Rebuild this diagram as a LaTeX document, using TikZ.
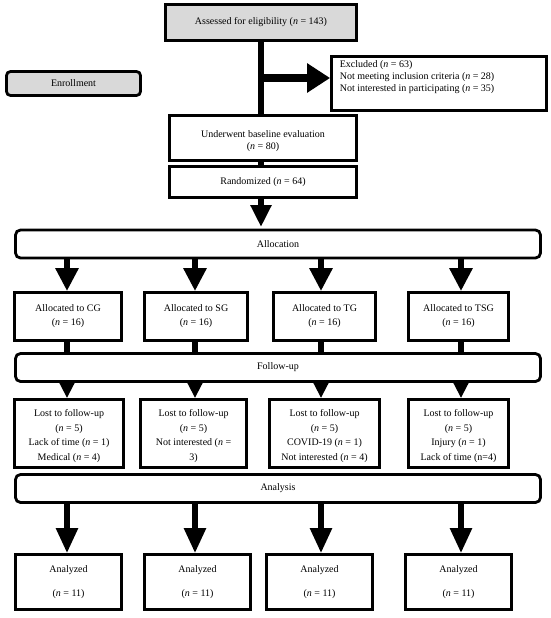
\documentclass[tikz,border=0pt]{standalone}
\usepackage{fontspec}
\setmainfont{Liberation Serif}
\usetikzlibrary{arrows.meta}

\tikzset{
  box/.style={draw=black, line width=2.8pt, align=center, inner sep=2pt},
  stage/.style={draw=black, line width=2.8pt, rounded corners=5pt, minimum width=525pt, minimum height=28pt},
  shaft/.style={black, line width=6pt},
  bigarrow/.style={black, line width=6pt, -{Triangle[length=23pt,width=22pt]}},
}
\newcommand{\nn}{\textit{n}}
\newcommand{\lift}[1]{\rule{0pt}{#1}}

\begin{document}
\begin{tikzpicture}[x=1pt, y=-1pt, font=\fontsize{10}{12}\selectfont]
\useasboundingbox (0,0) rectangle (550,618);

% enrollment part
\node[box, fill=black!15, minimum width=191pt, minimum height=36pt] (assess) at (261,22.5) {Assessed for eligibility (\nn{} = 143)};
\node[box, fill=black!15, rounded corners=4pt, minimum width=134pt, minimum height=24pt] (enroll) at (73.5,83.5) {Enrollment};
\node[box, minimum width=215pt, minimum height=54pt] (excl) at (439,83.5) {};
\node[anchor=north west, align=left, inner sep=0pt] (excltext) at ([xshift=9.5pt, yshift=-5.5pt]excl.north west)
  {Excluded (\nn{} = 63)\\ Not meeting inclusion criteria (\nn{} = 28)\\ Not interested in participating (\nn{} = 35)};
\node[box, minimum width=187pt, minimum height=45pt] (base) at (263,138) {\lift{13pt}Underwent baseline evaluation\\ (\nn{} = 80)};
\node[box, minimum width=187pt, minimum height=31pt] (rand) at (263,182) {Randomized (\nn{} = 64)};

\coordinate (split) at (261,78);
\draw[shaft] (assess.south -| split) -- (base.north -| split);
\draw[shaft, -{Triangle[length=23pt,width=28pt]}, line width=8pt] (split) -- (split -| excl.west);
\draw[shaft] (base.south -| split) -- (rand.north -| split);
\draw[bigarrow, -{Triangle[length=22pt,width=20pt]}] (rand.south -| split) -- (split |- 0,227);

% stages
\node[stage] (alloc) at (278,244) {Allocation};
\node[stage] (follow) at (278,367.5) {Follow-up};
\node[stage] (analysis) at (278,488.5) {Analysis};

% columns
\coordinate (c1) at (67,0);
\coordinate (c2) at (195,0);
\coordinate (c3) at (321,0);
\coordinate (c4) at (461,0);

% allocated
\tikzset{grp/.style={box, minimum height=48pt, font=\fontsize{10}{14}\selectfont}}
\node[grp, minimum width=107pt] (allocCG) at (68,316.5) {Allocated to CG\\ (\nn{} = 16)};
\node[grp, minimum width=103pt] (allocSG) at (196,316.5) {Allocated to SG\\ (\nn{} = 16)};
\node[grp, minimum width=102pt] (allocTG) at (324.5,316.5) {Allocated to TG\\ (\nn{} = 16)};
\node[grp, minimum width=100pt] (allocTSG) at (458.5,316.5) {Allocated to TSG\\ (\nn{} = 16)};

% lost to follow-up
\tikzset{lost/.style={box, minimum height=68pt, font=\fontsize{10}{14.7}\selectfont}}
\node[lost, minimum width=109pt] (lostCG) at (69,433.5) {\lift{12pt}Lost to follow-up\\ (\nn{} = 5)\\ Lack of time (\nn{} = 1)\\ Medical (\nn{} = 4)};
\node[lost, minimum width=106pt] (lostSG) at (193.5,433.5) {\lift{12pt}Lost to follow-up\\ (\nn{} = 5)\\ Not interested (\nn{} =\\ 3)};
\node[lost, minimum width=110pt] (lostTG) at (324.5,433.5) {\lift{12pt}Lost to follow-up\\ (\nn{} = 5)\\ COVID-19 (\nn{} = 1)\\ Not interested (\nn{} = 4)};
\node[lost, minimum width=100pt] (lostTSG) at (458.5,433.5) {\lift{12pt}Lost to follow-up\\ (\nn{} = 5)\\ Injury (\nn{} = 1)\\ Lack of time (n=4)};

% analyzed
\tikzset{done/.style={box, minimum width=106pt, minimum height=55pt, font=\fontsize{10}{24}\selectfont}}
\node[done] (anaCG) at (68.5,582) {Analyzed\\ (\nn{} = 11)};
\node[done] (anaSG) at (197.5,582) {Analyzed\\ (\nn{} = 11)};
\node[done] (anaTG) at (319.5,582) {Analyzed\\ (\nn{} = 11)};
\node[done] (anaTSG) at (458.5,582) {Analyzed\\ (\nn{} = 11)};

% connectors
\draw[bigarrow] (alloc.south -| c1) -- (allocCG.north -| c1);
\draw[bigarrow] (alloc.south -| c2) -- (allocSG.north -| c2);
\draw[bigarrow] (alloc.south -| c3) -- (allocTG.north -| c3);
\draw[bigarrow] (alloc.south -| c4) -- (allocTSG.north -| c4);

\draw[shaft] (allocCG.south -| c1) -- (follow.north -| c1);
\draw[shaft] (allocSG.south -| c2) -- (follow.north -| c2);
\draw[shaft] (allocTG.south -| c3) -- (follow.north -| c3);
\draw[shaft] (allocTSG.south -| c4) -- (follow.north -| c4);

\tikzset{shortarrow/.style={shaft, -{Triangle[length=15pt,width=14pt]}}}
\draw[shortarrow] (follow.south -| c1) -- (lostCG.north -| c1);
\draw[shortarrow] (follow.south -| c2) -- (lostSG.north -| c2);
\draw[shortarrow] (follow.south -| c3) -- (lostTG.north -| c3);
\draw[shortarrow] (follow.south -| c4) -- (lostTSG.north -| c4);

\tikzset{longarrow/.style={black, line width=5.5pt, -{Triangle[length=25pt,width=21pt]}}}
\draw[longarrow] (analysis.south -| c1) -- (anaCG.north -| c1);
\draw[longarrow] (analysis.south -| c2) -- (anaSG.north -| c2);
\draw[longarrow] (analysis.south -| c3) -- (anaTG.north -| c3);
\draw[longarrow] (analysis.south -| c4) -- (anaTSG.north -| c4);
\end{tikzpicture}
\end{document}
